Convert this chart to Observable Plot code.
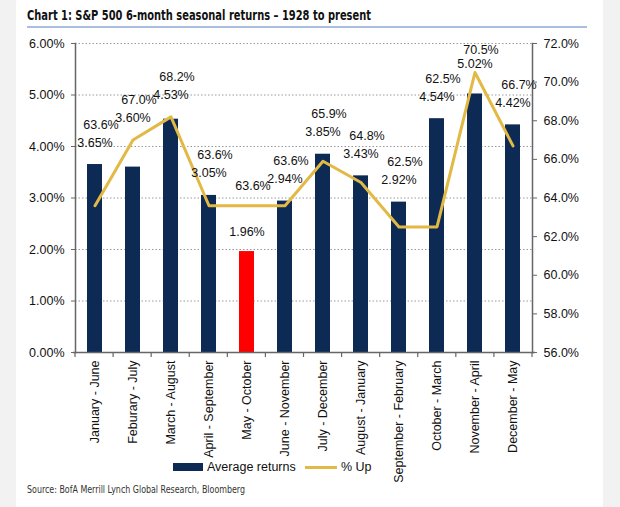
<!DOCTYPE html>
<html>
<head>
<meta charset="utf-8">
<script src="https://cdn.jsdelivr.net/npm/d3@7"></script>
<script src="https://cdn.jsdelivr.net/npm/@observablehq/plot@0.6"></script>
<style>
  html, body { margin: 0; padding: 0; background: #f2f2f2; width: 620px; height: 507px; overflow: hidden; }
  #panel { position: absolute; left: 16px; top: 0; width: 587px; height: 507px; background: #fff; }
  #chart { position: absolute; left: 0; top: 30px; }
  #chart svg { overflow: visible; }
  .lg { position: absolute; font-family: "Liberation Sans", Arial, sans-serif; font-size: 12.5px; color: #111; line-height: 1; }
  #hdr { position: absolute; left: 0; top: 0; }
</style>
</head>
<body>
<div id="panel">
  <svg id="hdr" width="587" height="30">
    <text x="11" y="19.5" textLength="344" lengthAdjust="spacingAndGlyphs" font-family="'Liberation Sans Narrow', 'DejaVu Sans Condensed', 'Liberation Sans', sans-serif" font-weight="bold" font-size="14.5" fill="#111">Chart 1: S&amp;P 500 6-month seasonal returns – 1928 to present</text>
    <line x1="11" x2="571" y1="27" y2="27" stroke="#8eaad4" stroke-width="1.5"></line>
  </svg>
  <div id="chart"></div>
  <div class="lg" style="left:157px; top:463px; width:30px; height:8px; background:#0d2a55;"></div>
  <div class="lg" style="left:191px; top:461px;">Average returns</div>
  <div class="lg" style="left:289px; top:466px; width:32px; height:3px; background:#e2b945;"></div>
  <div class="lg" style="left:325px; top:461px;">% Up</div>
  <svg style="position:absolute; left:0; top:480px;" width="587" height="27">
    <text x="11" y="13" textLength="218" lengthAdjust="spacingAndGlyphs" font-family="'Liberation Sans Narrow', 'DejaVu Sans Condensed', 'Liberation Sans', sans-serif" font-size="11" fill="#333">Source: BofA Merrill Lynch Global Research, Bloomberg</text>
  </svg>
</div>
<script>
// ---- data ----
const categories = ["January - June", "Feburary - July", "March - August", "April - September", "May - October", "June - November", "July - December", "August - January", "September - February", "October - March", "November - April", "December - May"];
const avgReturns = [3.65, 3.60, 4.53, 3.05, 1.96, 2.94, 3.85, 3.43, 2.92, 4.54, 5.02, 4.42];
const pctUp = [63.6, 67.0, 68.2, 63.6, 63.6, 63.6, 65.9, 64.8, 62.5, 62.5, 70.5, 66.7];
const highlighted = "May - October";
const leftTicks = [0, 1, 2, 3, 4, 5, 6];
const rightTicks = [56, 58, 60, 62, 64, 66, 68, 70, 72];

// ---- map right axis (% Up) onto left axis units ----
const leftDomain = [0, 6];
const rightDomain = [56, 72];
const toLeft = v => leftDomain[0] + (v - rightDomain[0]) / (rightDomain[1] - rightDomain[0]) * (leftDomain[1] - leftDomain[0]);
const toRight = v => rightDomain[0] + (v - leftDomain[0]) / (leftDomain[1] - leftDomain[0]) * (rightDomain[1] - rightDomain[0]);

// chart geometry
const W = 587, H = 470, MT = 13, MB = 148, ML = 59, MR = 71;
const unitsPerPx = (leftDomain[1] - leftDomain[0]) / (H - MT - MB);

// label placement: two-line label above the higher of bar / line point
const data = categories.map((c, i) => {
  const ret = avgReturns[i];
  const up = toLeft(pctUp[i]);
  const split = up - ret > 0.7;
  const top = Math.max(ret, up);
  let barY, pctY;
  if (split) {
    barY = ret + 20 * unitsPerPx;
    pctY = up + 20 * unitsPerPx;
  } else {
    barY = top + 22 * unitsPerPx;
    pctY = top + 40 * unitsPerPx;
    const cap = leftDomain[1] - 6 * unitsPerPx;
    if (pctY > cap) { const ex = pctY - cap; pctY -= ex; barY = Math.max(top + 8 * unitsPerPx, barY - ex); }
  }
  return { cat: c, ret, pct: pctUp[i], up, barY, pctY };
});

const navy = "#0d2a55", red = "#ff0000", gold = "#e2b945", axisCol = "#666";

function boundaryTicks(index, scales, values, dims) {
  const g = d3.create("svg:g");
  const x0 = dims.marginLeft, x1 = dims.width - dims.marginRight;
  const y0 = scales.y(0);
  const n = categories.length;
  for (let i = 0; i <= n; i++) {
    const x = x0 + (x1 - x0) * i / n;
    g.append("line").attr("x1", x).attr("x2", x).attr("y1", y0).attr("y2", y0 + 5)
      .attr("stroke", axisCol).attr("stroke-width", 1.2);
  }
  return g.node();
}

const labelFont = 12.5;

const chart = Plot.plot({
  width: W,
  height: H,
  marginTop: MT,
  marginLeft: ML,
  marginRight: MR,
  marginBottom: MB,
  style: { fontFamily: "'Liberation Sans', Arial, sans-serif", fontSize: "12.5px", color: "#111", background: "transparent", overflow: "visible" },
  x: { domain: categories, paddingInner: 0.6, paddingOuter: 0.3, label: null },
  y: { domain: leftDomain, label: null },
  marks: [
    Plot.gridY(leftTicks.slice(1), { stroke: "#9a9a9a", strokeOpacity: 1, strokeDasharray: "1.5,2" }),
    Plot.barY(data, { x: "cat", y: "ret", fill: d => d.cat === highlighted ? red : navy }),
    Plot.line(data, { x: "cat", y: "up", stroke: gold, strokeWidth: 3, curve: "linear" }),
    Plot.frame({ anchor: "left", stroke: axisCol, strokeWidth: 1.5 }),
    Plot.frame({ anchor: "right", stroke: axisCol, strokeWidth: 1.5 }),
    Plot.ruleY([0], { stroke: axisCol, strokeWidth: 1.5, insetLeft: -2, insetRight: -3 }),
    Plot.axisY(leftTicks, { anchor: "left", tickFormat: d => d.toFixed(2) + "%", tickSize: 4, tickPadding: 7, label: null, stroke: axisCol }),
    Plot.axisY(rightTicks.map(toLeft), { anchor: "right", tickFormat: d => toRight(d).toFixed(1) + "%", tickSize: 4, tickPadding: 7, label: null, stroke: axisCol }),
    Plot.axisX({ anchor: "bottom", tickSize: 0, tickRotate: -90, tickPadding: 8, label: null, textOverflow: null, lineWidth: Infinity }),
    boundaryTicks,
    Plot.text(data, { x: "cat", y: "barY", text: d => d.ret.toFixed(2) + "%", fontSize: labelFont, fill: "#111" }),
    Plot.text(data, { x: "cat", y: "pctY", text: d => d.pct.toFixed(1) + "%", dx: 6, fontSize: labelFont, fill: "#111" })
  ]
});
document.getElementById("chart").appendChild(chart);
</script>
</body>
</html>
